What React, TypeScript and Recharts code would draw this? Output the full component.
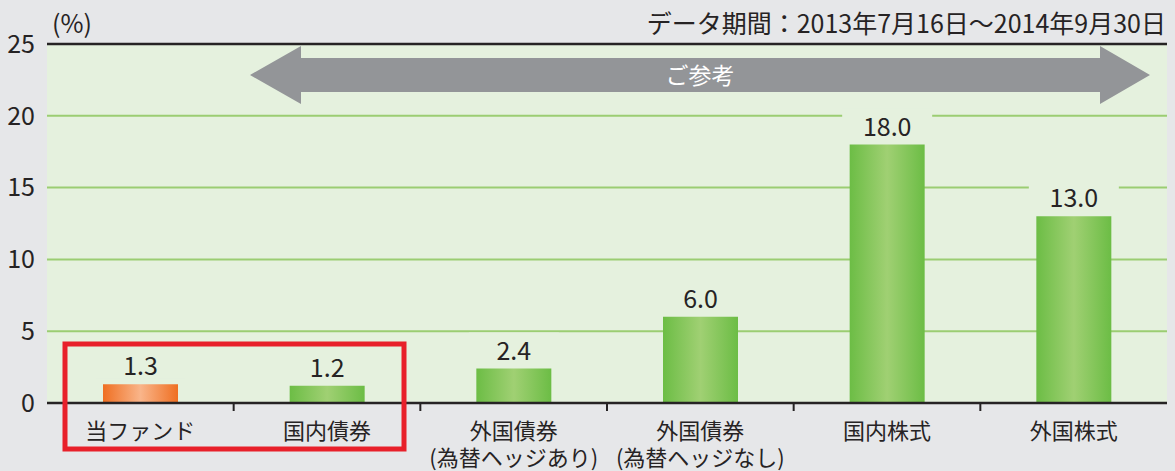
import { BarChart, Bar, XAxis, YAxis, CartesianGrid, ReferenceLine, Cell, LabelList } from "recharts";

const categories = [
  ["当ファンド"],
  ["国内債券"],
  ["外国債券", "(為替ヘッジあり)"],
  ["外国債券", "(為替ヘッジなし)"],
  ["国内株式"],
  ["外国株式"],
];
const values = [1.3, 1.2, 2.4, 6.0, 18.0, 13.0];
const yTicks = [0, 5, 10, 15, 20, 25];

const FONT = "'Noto Sans CJK JP', 'Noto Sans', sans-serif";
const TEXT = "#262324";
const PLOT_BG = "#e5f1de";

const data = categories.map((lines, i) => ({ name: lines.join("\n"), value: values[i] }));

const CategoryTick = (props: any) => {
  const { x, y, payload, index } = props;
  const lines = String(payload.value).split("\n");
  const half = payload.offset ?? 0;
  return (
    <g>
      {index < categories.length - 1 && (
        <line x1={x + half} x2={x + half} y1={y - 8} y2={y} stroke={TEXT} strokeWidth={2} />
      )}
      {lines.map((l, i) => (
        <text key={i} x={x} y={y + 28 + i * 27} textAnchor="middle" fontSize={22} fill={TEXT} fontFamily={FONT}>
          {l}
        </text>
      ))}
    </g>
  );
};

const ValueLabel = (props: any) => {
  const { x, y, width, value } = props;
  const cx = x + width / 2;
  return (
    <g>
      <rect x={cx - 45} y={y - 36} width={90} height={30} fill={PLOT_BG} />
      <text x={cx} y={y - 9} textAnchor="middle" fontSize={25} fill={TEXT} fontFamily={FONT}>
        {Number(value).toFixed(1)}
      </text>
    </g>
  );
};

export default function App() {
  return (
    <div style={{ position: "absolute", left: 0, top: 0, width: 1175, height: 471, background: "#e6e7e9", fontFamily: FONT }}>
      <BarChart width={1175} height={471} data={data} margin={{ top: 44, right: 8, left: 0, bottom: 0 }}>
        <defs>
          <linearGradient id="greenBar" x1="0" y1="0" x2="1" y2="0">
            <stop offset="0%" stopColor="#6cbd45" />
            <stop offset="50%" stopColor="#a0d073" />
            <stop offset="100%" stopColor="#6cbd45" />
          </linearGradient>
          <linearGradient id="orangeBar" x1="0" y1="0" x2="1" y2="0">
            <stop offset="0%" stopColor="#ef6f22" />
            <stop offset="50%" stopColor="#f9b58a" />
            <stop offset="100%" stopColor="#ef6f22" />
          </linearGradient>
        </defs>
        <CartesianGrid vertical={false} fill={PLOT_BG} stroke="#9bcd72" strokeWidth={2} />
        <XAxis
          dataKey="name"
          height={68}
          interval={0}
          tickLine={false}
          axisLine={{ stroke: TEXT, strokeWidth: 2.5 }}
          tick={<CategoryTick />}
        />
        <YAxis
          width={47}
          domain={[0, 25]}
          ticks={yTicks}
          axisLine={false}
          tickLine={false}
          tick={{ fontSize: 25, fill: TEXT, fontFamily: FONT }}
          tickMargin={6}
        />
        <ReferenceLine y={25} stroke={TEXT} strokeWidth={2.5} />
        <Bar dataKey="value" barSize={75} isAnimationActive={false}>
          {data.map((_, i) => (
            <Cell key={i} fill={i === 0 ? "url(#orangeBar)" : "url(#greenBar)"} />
          ))}
          <LabelList dataKey="value" content={<ValueLabel />} />
        </Bar>
      </BarChart>
      <svg width={1175} height={471} style={{ position: "absolute", left: 0, top: 0, pointerEvents: "none" }}>
        <polygon
          points="250,75 301,46 301,58 1100,58 1100,46 1150,75 1100,104 1100,92 301,92 301,104"
          fill="#939598"
        />
        <text x={700} y={84} textAnchor="middle" fontSize={23} fill="#ffffff" fontFamily={FONT}>
          ご参考
        </text>
        <text x={52} y={33} fontSize={25} fill={TEXT} fontFamily={FONT}>
          (%)
        </text>
        <text x={1166} y={33} textAnchor="end" fontSize={25} fill={TEXT} fontFamily={FONT}>
          データ期間：2013年7月16日～2014年9月30日
        </text>
        <rect x={65} y={344} width={339} height={105} fill="none" stroke="#e8202a" strokeWidth={5} />
      </svg>
    </div>
  );
}
